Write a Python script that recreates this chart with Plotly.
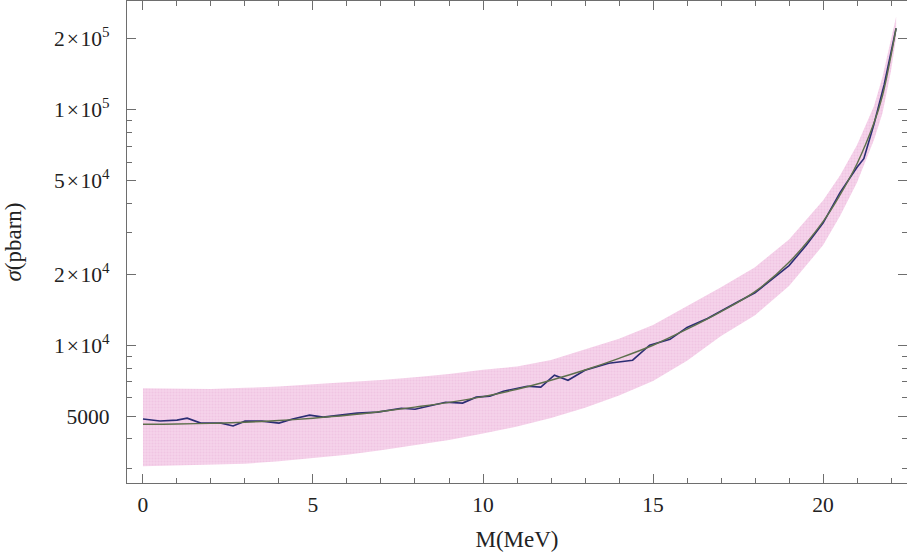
import plotly.graph_objects as go

# Smooth fit: sigma(M) in pbarn
fit_m = [0, 1, 2, 3, 4, 5, 6, 7, 8, 9, 10, 11, 12, 13, 14, 15, 16, 17, 18, 19,
         20, 20.5, 21, 21.5, 21.75, 22, 22.15]
fit_sigma = [4620, 4630, 4660, 4710, 4790, 4900, 5040, 5230, 5460, 5720, 6050,
             6500, 7100, 7850, 8800, 10000, 11700, 13900, 16900, 22500, 33500,
             43500, 59000, 88000, 115000, 170000, 222000]

# Uncertainty band (upper / lower edge), same M grid as the fit
band_upper = [6565, 6530, 6524, 6594, 6682, 6831, 6955, 7113, 7316, 7550, 7865,
              8125, 8662, 9577, 10648, 12200, 14625, 17653, 21463, 28125, 41205,
              52635, 70800, 103840, 138000, 197200, 248640]
band_lower = [3066, 3087, 3107, 3140, 3215, 3315, 3429, 3582, 3753, 3958, 4216,
              4514, 4913, 5433, 6111, 7042, 8603, 10945, 13413, 17857, 26587,
              35366, 49167, 74576, 97000, 146552, 201818]

# Simulated (noisy) cross section
sim_m = [0, 0.5, 1.0, 1.3, 1.7, 2.3, 2.65, 3.0, 3.5, 4.0, 4.4, 4.9, 5.3, 5.8,
         6.3, 6.9, 7.6, 8.0, 8.5, 8.9, 9.4, 9.8, 10.2, 10.6, 11.3, 11.7, 12.1,
         12.5, 13.0, 13.7, 14.4, 14.9, 15.5, 16.0, 16.6, 17.0, 17.5, 18.0, 18.6,
         19.0, 19.5, 20.0, 20.5, 21.0, 21.2, 21.5, 21.8, 22.15]
sim_sigma = [4860, 4770, 4810, 4900, 4670, 4670, 4540, 4760, 4760, 4670, 4860,
             5050, 4950, 5050, 5150, 5200, 5400, 5350, 5570, 5730, 5680, 6020,
             6080, 6380, 6700, 6640, 7460, 7100, 7830, 8390, 8640, 10000, 10600,
             11900, 13000, 14000, 15300, 16700, 19500, 21800, 26500, 33000,
             44500, 57000, 62000, 87000, 128000, 222000]

x_ticks = [0, 5, 10, 15, 20]
y_ticks = [5000, 1e4, 2e4, 5e4, 1e5, 2e5]
y_ticktext = ["5000", "1\u200a×\u200a10<sup>4</sup>", "2\u200a×\u200a10<sup>4</sup>",
              "5\u200a×\u200a10<sup>4</sup>", "1\u200a×\u200a10<sup>5</sup>",
              "2\u200a×\u200a10<sup>5</sup>"]
y_minor = [3000, 4000, 6000, 7000, 8000, 9000, 3e4, 4e4, 6e4, 7e4, 8e4, 9e4]

SERIF = "Liberation Serif, Times New Roman, serif"
AXIS_GRAY = "#6e6e6e"

fig = go.Figure()
fig.add_trace(go.Scatter(x=fit_m, y=band_lower, mode="lines",
                         line=dict(width=0, color="rgba(0,0,0,0)"),
                         hoverinfo="skip", showlegend=False))
fig.add_trace(go.Scatter(x=fit_m, y=band_upper, mode="lines", fill="tonexty",
                         fillcolor="rgb(242,202,229)",
                         fillpattern=dict(shape=".", fgcolor="rgb(236,184,220)",
                                          bgcolor="rgb(245,210,234)",
                                          size=3, solidity=0.35),
                         line=dict(width=0, color="rgba(0,0,0,0)"),
                         hoverinfo="skip", showlegend=False))
fig.add_trace(go.Scatter(x=sim_m, y=sim_sigma, mode="lines",
                         line=dict(color="#2c2d74", width=1.6),
                         showlegend=False))
fig.add_trace(go.Scatter(x=fit_m, y=fit_sigma, mode="lines", line_shape="spline",
                         line=dict(color="#5d6f4c", width=1.4),
                         showlegend=False))

fig.update_layout(
    width=907, height=556,
    margin=dict(l=127, r=0, t=1, b=73),
    paper_bgcolor="white", plot_bgcolor="white",
    font=dict(family=SERIF, size=21.5, color="#222222"),
    showlegend=False,
)

fig.update_xaxes(
    range=[-0.47, 22.47],
    tickmode="array", tickvals=x_ticks, ticktext=[str(v) for v in x_ticks],
    ticks="inside", ticklen=9, tickwidth=1, tickcolor=AXIS_GRAY,
    minor=dict(tickmode="linear", tick0=0, dtick=1, ticks="inside",
               ticklen=5, tickwidth=1, tickcolor=AXIS_GRAY),
    showline=True, linecolor=AXIS_GRAY, linewidth=1.2, mirror="allticks",
    showgrid=False, zeroline=False,
    ticklabelstandoff=2,
    title=dict(text="M(MeV)", font=dict(family=SERIF, size=23), standoff=14),
)

fig.update_yaxes(
    type="log", range=[3.415, 5.462],
    tickmode="array", tickvals=y_ticks, ticktext=y_ticktext,
    ticks="inside", ticklen=9, tickwidth=1, tickcolor=AXIS_GRAY,
    minor=dict(tickmode="array", tickvals=y_minor, ticks="inside",
               ticklen=5, tickwidth=1, tickcolor=AXIS_GRAY),
    showline=True, linecolor=AXIS_GRAY, linewidth=1.2, mirror="allticks",
    showgrid=False, zeroline=False,
    ticklabelstandoff=12,
    title=dict(text="<i>σ</i>(pbarn)", font=dict(family=SERIF, size=23), standoff=26),
)

fig.write_html("out.html")
